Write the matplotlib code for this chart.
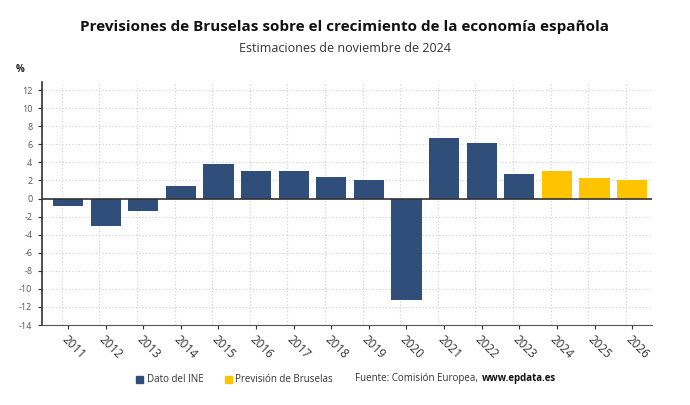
import matplotlib
matplotlib.use("Agg")
import matplotlib.pyplot as plt
from matplotlib.patches import Rectangle
import numpy as np

plt.rcParams['font.family'] = ['Open Sans', 'DejaVu Sans']

# datos
years = ['2011', '2012', '2013', '2014', '2015', '2016', '2017', '2018',
         '2019', '2020', '2021', '2022', '2023', '2024', '2025', '2026']
growth = [-0.8, -3.0, -1.4, 1.4, 3.8, 3.0, 3.0, 2.4,
          2.0, -11.2, 6.7, 6.2, 2.7, 3.0, 2.3, 2.1]
kind = ['ine'] * 13 + ['prev'] * 3
yticks = list(range(-14, 13, 2))

navy = '#2f4f7a'
gold = '#ffc300'
colors = [navy if k == 'ine' else gold for k in kind]

fig = plt.figure(figsize=(6.9, 4.05), dpi=100)
ax = fig.add_axes([0.061, 0.1975, 0.884, 0.6])

x = np.arange(len(years))
ax.bar(x, growth, width=0.8, color=colors, zorder=3)

ax.set_xlim(-0.69, 15.53)
ax.set_ylim(-14, 12.9)
ax.set_yticks(yticks)
ax.set_yticklabels([str(v) for v in yticks], fontsize=6.5, color='#555555')
ax.set_xticks(x)
ax.set_xticklabels(years, rotation=-45, ha='left', va='top', fontsize=8.5,
                   color='#333333', rotation_mode='anchor')
ax.tick_params(axis='x', length=3, color='#333333', pad=3)
ax.tick_params(axis='y', length=3, color='#333333', pad=4)

# rejilla
ax.set_xticks(x - 0.165, minor=True)
ax.tick_params(axis='x', which='minor', length=0)
ax.grid(axis='y', which='major', color='#cfcfd6', linestyle=(0, (1, 2)), linewidth=0.8, zorder=0)
ax.grid(axis='x', which='minor', color='#cfcfd6', linestyle=(0, (1, 2)), linewidth=0.8, zorder=0)
ax.grid(axis='x', which='major', visible=False)

for s in ['top', 'right']:
    ax.spines[s].set_visible(False)
ax.spines['left'].set_color('#333333')
ax.spines['left'].set_linewidth(1.2)
ax.spines['bottom'].set_linestyle((0, (1, 1)))
ax.spines['bottom'].set_color('#555555')
ax.axhline(0, color='#333333', linewidth=1.2, zorder=4)

fig.text(0.5, 1 - 27 / 405, 'Previsiones de Bruselas sobre el crecimiento de la economía española',
         ha='center', va='center', fontsize=11, fontweight='bold', color='#111111')
fig.text(0.5, 1 - 48 / 405, 'Estimaciones de noviembre de 2024', ha='center', va='center',
         fontsize=9, color='#333333')
fig.text(0.023, 1 - 70 / 405, '%', ha='left', va='center', fontsize=7, fontweight='bold', color='#222222')

# leyenda
ly = 1 - 379 / 405
sq_w, sq_h = 7 / 690, 7 / 405
fig.patches.append(Rectangle((136 / 690, ly - sq_h / 2), sq_w, sq_h, transform=fig.transFigure,
                             color=navy, figure=fig))
fig.text(147 / 690, ly, 'Dato del INE', ha='left', va='center', fontsize=7, color='#333333')
fig.patches.append(Rectangle((225 / 690, ly - sq_h / 2), sq_w, sq_h, transform=fig.transFigure,
                             color=gold, figure=fig))
fig.text(235 / 690, ly, 'Previsión de Bruselas', ha='left', va='center', fontsize=7, color='#333333')
fig.text(355 / 690, ly, 'Fuente: Comisión Europea,', ha='left', va='center', fontsize=7, color='#333333')
fig.text(482 / 690, ly, 'www.epdata.es', ha='left', va='center', fontsize=7, fontweight='bold',
         color='#111111')

fig.savefig('out.png', dpi=100)
